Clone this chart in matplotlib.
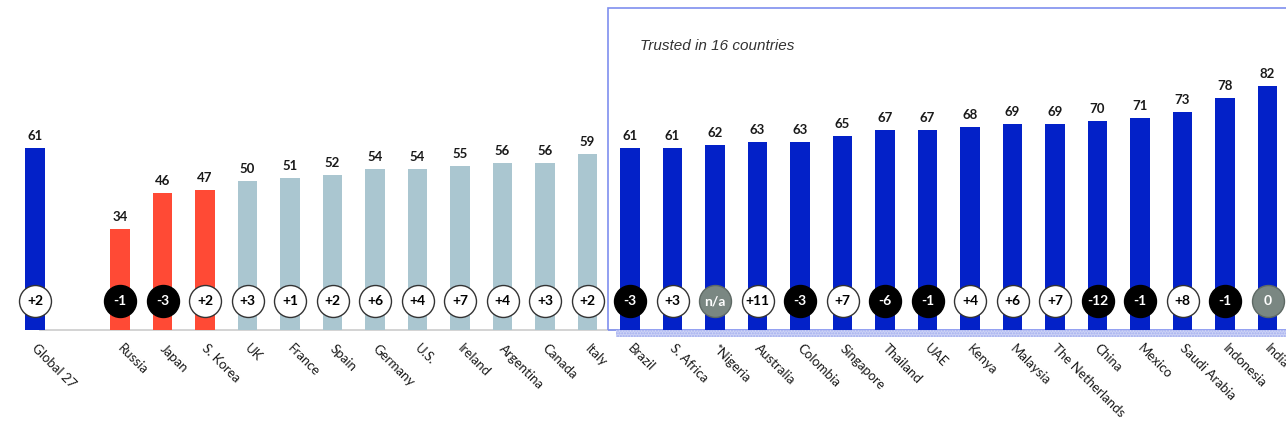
import matplotlib
matplotlib.use("Agg")
import matplotlib.pyplot as plt
from matplotlib.patches import Rectangle

countries = ["Global 27", "Russia", "Japan", "S. Korea", "UK", "France", "Spain", "Germany",
             "U.S.", "Ireland", "Argentina", "Canada", "Italy", "Brazil", "S. Africa",
             "*Nigeria", "Australia", "Colombia", "Singapore", "Thailand", "UAE", "Kenya",
             "Malaysia", "The Netherlands", "China", "Mexico", "Saudi Arabia", "Indonesia", "India"]
values = [61, 34, 46, 47, 50, 51, 52, 54, 54, 55, 56, 56, 59, 61, 61, 62, 63, 63, 65, 67, 67,
          68, 69, 69, 70, 71, 73, 78, 82]
changes = ["+2", "-1", "-3", "+2", "+3", "+1", "+2", "+6", "+4", "+7", "+4", "+3", "+2", "-3",
           "+3", "n/a", "+11", "-3", "+7", "-6", "-1", "+4", "+6", "+7", "-12", "-1", "+8", "-1", "0"]
groups = ["global"] + ["distrust"] * 3 + ["neutral"] * 9 + ["trust"] * 16
box_label = "Trusted in 16 countries"

group_colors = {"global": "#0321C8", "distrust": "#FF4A35", "neutral": "#AAC6D0", "trust": "#0321C8"}

W, H = 1286, 430
fig = plt.figure(figsize=(W / 100, H / 100), dpi=100)
base_px = 330
ax = fig.add_axes([0, (H - base_px) / H, 1, base_px / H])
px_per_slot = 42.5
x0_px = 35
ax.set_xlim(-x0_px / px_per_slot, (W - x0_px) / px_per_slot)
px_per_unit = 2.98
ax.set_ylim(0, base_px / px_per_unit)
ax.axis("off")

xs = [0] + list(range(2, 2 + len(countries) - 1))
fam = ["Lato", "DejaVu Sans"]

for x, v, c, g, name in zip(xs, values, changes, groups, countries):
    ax.bar(x, v, width=0.47, color=group_colors[g], zorder=2)
    ax.text(x, v + 2.0, str(v), ha="center", va="bottom", fontsize=9.5, fontweight="bold",
            color="#1A1A1A", family=fam)
    if c.startswith("-"):
        fc, ec, tc = "black", "black", "white"
    elif c in ("n/a", "0"):
        fc, ec, tc = "#7A8782", "#5E6964", "white"
    else:
        fc, ec, tc = "white", "#333333", "black"
    ax.scatter([x], [9.7], s=530, facecolor=fc, edgecolor=ec, linewidth=1.0, zorder=4, clip_on=False)
    ax.text(x, 9.7, c, ha="center", va="center", fontsize=10, fontweight="bold", color=tc,
            zorder=5, family=fam)
    ax.text(x - 0.02, -5.5, name, rotation=-45, rotation_mode="anchor", ha="left", va="center",
            fontsize=9.5, color="#1A1A1A", clip_on=False, family=fam)

# baseline
ax.plot([(40 - x0_px) / px_per_slot, 13.7], [0, 0], color="#CCCCCC", lw=1.2, zorder=1, clip_on=False)

# trusted box
bx = 13.48
ax.add_patch(Rectangle((bx, 0), 40, (base_px - 8) / px_per_unit, fill=False,
                       edgecolor="#7F8FEF", lw=1.2, zorder=1, clip_on=False))
ax.add_patch(Rectangle((bx + 0.2, -6.5 / px_per_unit), 40, 6.5 / px_per_unit, facecolor="#CDD3F6",
                       edgecolor="#A3AEEF", hatch="......", lw=0, zorder=3, clip_on=False))
ax.text(bx + 0.75, (base_px - 46) / px_per_unit, box_label, fontsize=11, style="italic",
        color="#333333", ha="left", va="center", family=["Liberation Sans", "DejaVu Sans"])

fig.savefig("out.png", dpi=100)
